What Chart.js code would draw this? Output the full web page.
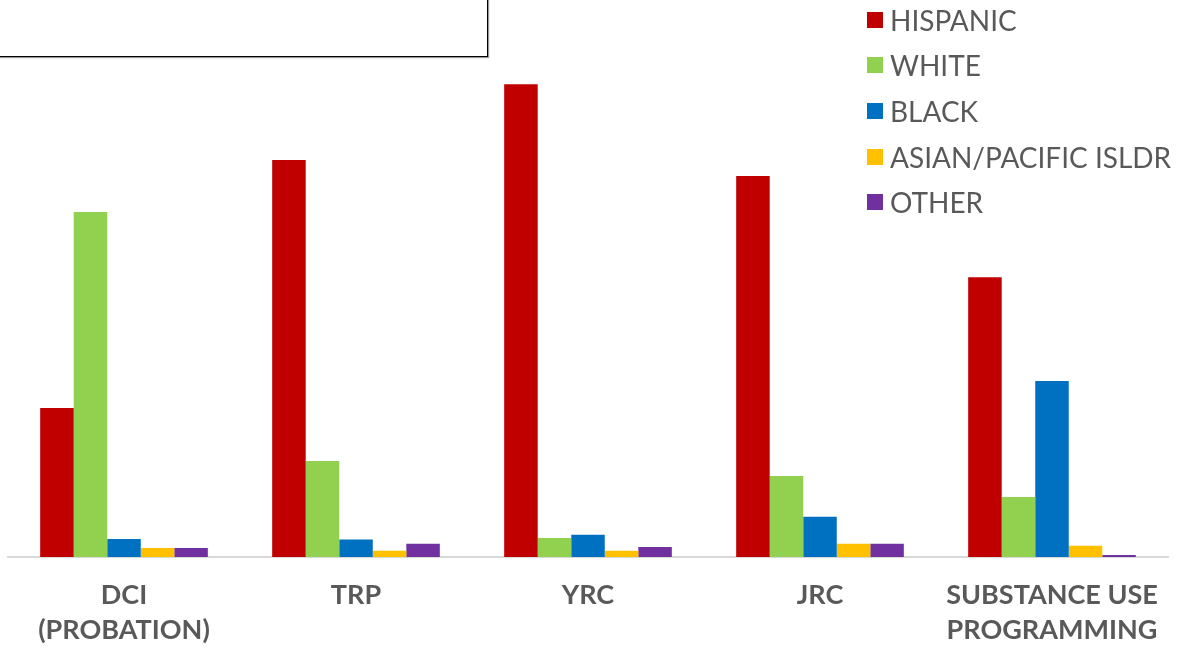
<!DOCTYPE html>
<html>
<head>
<meta charset="utf-8">
<script src="https://cdn.jsdelivr.net/npm/chart.js@4"></script>
<style>
    html, body { margin: 0; padding: 0; background: #fff; }
    #wrap { position: relative; width: 1184px; height: 648px; overflow: hidden; }
    #myChart { display: block; }
    #titlebox {
        position: absolute; left: -10px; top: -10px; width: 496px; height: 65px;
        border: 1px solid #000; box-shadow: 1px 1px 1px #999; background: #fff;
    }
    #legend { position: absolute; left: 867px; top: -3px; font-family: Lato, sans-serif; }
    .item { height: 45.6px; display: flex; align-items: center; font-size: 28px; color: #595959; }
    .box { width: 16px; height: 16px; margin-right: 7px; }
</style>
</head>
<body>
<div id="wrap">
    <canvas id="myChart" width="1184" height="648"></canvas>
    <div id="titlebox"></div>
    <div id="legend"></div>
</div>
<script>
// percent of each program's population by race
var programs = [['DCI', '(PROBATION)'], 'TRP', 'YRC', 'JRC', ['SUBSTANCE USE', 'PROGRAMMING']];
var races = ['HISPANIC', 'WHITE', 'BLACK', 'ASIAN/PACIFIC ISLDR', 'OTHER'];
var colors = ['#C00000', '#92D050', '#0070C0', '#FFC000', '#7030A0'];

var hispanic = [28.1, 74.9, 89.2, 71.9, 52.8];
var white    = [65.1, 18.1, 3.6, 15.3, 11.3];
var black    = [3.4, 3.3, 4.2, 7.6, 33.2];
var asian    = [1.7, 1.2, 1.2, 2.5, 2.1];
var other    = [1.7, 2.5, 1.9, 2.5, 0.4];

var series = [hispanic, white, black, asian, other];

var ctx = document.getElementById("myChart");
var myChart = new Chart(ctx, {
    type: 'bar',
    data: {
        labels: programs,
        datasets: series.map(function(values, i) {
            return {
                label: races[i],
                data: values,
                backgroundColor: colors[i],
                categoryPercentage: 0.7226,
                barPercentage: 1.0
            };
        })
    },
    options: {
        responsive: false,
        animation: false,
        events: [],
        layout: {
            padding: { left: 8, right: 16, top: 27, bottom: 0 }
        },
        plugins: {
            legend: { display: false },
            tooltip: { enabled: false }
        },
        scales: {
            y: {
                display: false,
                min: 0,
                max: 100
            },
            x: {
                grid: { display: false, drawTicks: false },
                border: { display: true, color: '#D9D9D9', width: 2 },
                afterFit: function(scale) { scale.height = 91; },
                ticks: {
                    padding: 21,
                    color: '#595959',
                    font: { family: 'Lato', size: 27, weight: 'bold', lineHeight: 1.3 },
                    maxRotation: 0,
                    autoSkip: false
                }
            }
        }
    }
});

// Legend as html on top of the plot
var legend = document.getElementById("legend");
races.forEach(function(name, i) {
    var row = document.createElement("div");
    row.className = "item";
    row.innerHTML = '<div class="box" style="background:' + colors[i] + '"></div>' + name;
    legend.appendChild(row);
});
</script>
</body>
</html>
